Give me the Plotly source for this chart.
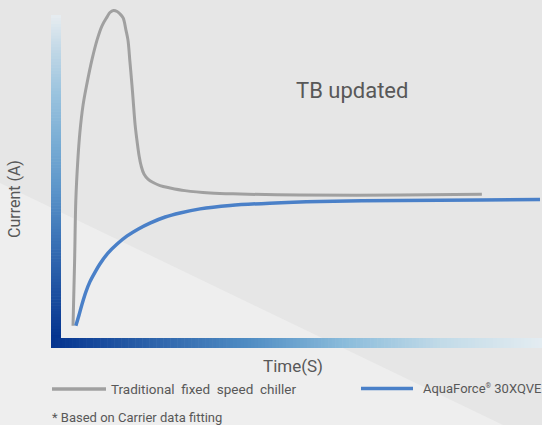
import plotly.graph_objects as go

# ---- data -----------------------------------------------------------------
# start-up current of a traditional fixed speed chiller (inrush peak)
fixed_time = [3.0, 3.4, 3.7, 4.2, 4.7, 5.5, 6.5, 7.7, 9.0, 10.2, 11.5, 12.2,
              13.1, 14.0, 14.7, 15.5, 16.2, 16.7, 17.2, 17.7, 18.0, 18.5,
              19.0, 19.5, 20.0, 20.7, 21.7, 23.0, 24.7, 27.2, 30.9, 37.2,
              44.7, 59.6, 84.6, 105.0]
fixed_current = [3.6, 23.1, 40.8, 52.7, 60.7, 68.9, 75.4, 82.2, 88.2, 92.3,
                 95.0, 96.3, 96.9, 96.6, 95.9, 94.7, 91.1, 88.2, 81.7, 74.9,
                 70.4, 63.0, 58.0, 53.8, 50.9, 48.5, 47.0, 46.0, 45.1, 44.4,
                 43.6, 42.9, 42.6, 42.3, 42.3, 42.5]

# soft start of the AquaForce 30XQVE
vsd_time = [3.7, 4.5, 5.2, 6.2, 7.2, 8.5, 9.7, 11.7, 14.0, 16.5, 19.2, 22.2,
            26.0, 29.7, 34.7, 42.2, 52.1, 64.6, 84.6, 104.5, 119.5]
vsd_current = [3.6, 6.8, 9.8, 13.6, 16.6, 19.5, 21.9, 25.1, 27.8, 30.2, 32.2,
               34.0, 35.8, 37.0, 38.2, 39.2, 39.9, 40.4, 40.7, 40.8, 41.0]

series_names = ["Traditional\u00a0 fixed\u00a0 speed\u00a0 chiller",
                "AquaForce<sup><span style='font-size:7px'>®</span></sup> 30XQVE"]
x_title = "Time(S)"
y_title = "Current (A)"
note_text = "TB updated"
footnote = "* Based on Carrier data fitting"

# ---- styling --------------------------------------------------------------
W, H = 542, 425
FONT = "Roboto"
TEXT = "#585858"
GRAY = "#a0a0a0"
BLUE = "#4a80c8"


def px(x):
    return x / W


def py(y):
    return 1 - y / H


def hex_to_rgb(h):
    h = h.lstrip("#")
    return tuple(int(h[i:i + 2], 16) for i in (0, 2, 4))


def gradient(stops, f):
    for (p0, c0), (p1, c1) in zip(stops, stops[1:]):
        if p0 <= f <= p1:
            t = 0 if p1 == p0 else (f - p0) / (p1 - p0)
            a, b = hex_to_rgb(c0), hex_to_rgb(c1)
            r = [round(a[i] + (b[i] - a[i]) * t) for i in range(3)]
            return "rgb({},{},{})".format(*r)
    return stops[-1][1]


fig = go.Figure()

fig.add_trace(go.Scatter(
    x=fixed_time, y=fixed_current, mode="lines",
    line=dict(color=GRAY, width=3, shape="spline", smoothing=1.0),
    name=series_names[0], hoverinfo="skip"))
fig.add_trace(go.Scatter(
    x=vsd_time, y=vsd_current, mode="lines",
    line=dict(color=BLUE, width=3.5, shape="spline", smoothing=0.8),
    name=series_names[1], hoverinfo="skip"))

shapes = []

# light diagonal band in the background
shapes.append(dict(
    type="path", xref="paper", yref="paper", layer="below",
    path=f"M 0 {py(183)} L {px(503)} {py(425)} L 0 {py(425)} Z",
    fillcolor="#eeeeee", line=dict(width=0)))

# gradient axis lines (dark navy at the origin, fading outward)
h_stops = [(0.0, "#05348f"), (0.2, "#2c62aa"), (0.4, "#4f8cc3"),
           (0.6, "#8bbcdb"), (0.8, "#c2dbe8"), (1.0, "#e3ecf1")]
v_stops = [(0.0, "#05348f"), (0.3, "#3a72b6"), (0.45, "#5a93c9"),
           (0.6, "#78acd4"), (0.75, "#98c2de"), (0.9, "#c3d9e7"),
           (1.0, "#e6ecf0")]

x0, x1 = 51, 542
n = 140
for i in range(n):
    a = x0 + (x1 - x0) * i / n
    b = x0 + (x1 - x0) * (i + 1) / n + 0.6
    shapes.append(dict(type="rect", xref="paper", yref="paper",
                       x0=px(a), x1=px(min(b, x1)), y0=py(348), y1=py(338),
                       fillcolor=gradient(h_stops, i / (n - 1)),
                       line=dict(width=0), layer="below"))

y0, y1 = 338, 15
n = 110
for i in range(n):
    a = y0 - (y0 - y1) * i / n
    b = y0 - (y0 - y1) * (i + 1) / n - 0.6
    shapes.append(dict(type="rect", xref="paper", yref="paper",
                       x0=px(51), x1=px(61), y0=py(a), y1=py(max(b, y1)),
                       fillcolor=gradient(v_stops, i / (n - 1)),
                       line=dict(width=0), layer="below"))

# legend samples
shapes.append(dict(type="line", xref="paper", yref="paper",
                   x0=px(52), x1=px(106), y0=py(389), y1=py(389),
                   line=dict(color=GRAY, width=3.5)))
shapes.append(dict(type="line", xref="paper", yref="paper",
                   x0=px(361), x1=px(413), y0=py(388.5), y1=py(388.5),
                   line=dict(color=BLUE, width=3.5)))

annotations = [
    dict(text=note_text, x=px(352), y=py(90), font=dict(size=22)),
    dict(text=y_title, x=px(14), y=py(199), textangle=-90,
         font=dict(size=16)),
    dict(text=x_title, x=px(293), y=py(366), font=dict(size=17)),
    dict(text=series_names[0], x=px(109), y=py(389), xanchor="left",
         font=dict(size=13.5)),
    dict(text=series_names[1], x=px(421), y=py(388), xanchor="left",
         font=dict(size=13)),
    dict(text=footnote, x=px(50), y=py(417), xanchor="left",
         font=dict(size=13)),
]
for a in annotations:
    a.setdefault("xanchor", "center")
    a.update(xref="paper", yref="paper", yanchor="middle", showarrow=False)
    a["font"].update(family=FONT, color=TEXT)

fig.update_layout(
    width=W, height=H,
    margin=dict(l=0, r=0, t=0, b=0),
    paper_bgcolor="#e6e6e6",
    plot_bgcolor="rgba(0,0,0,0)",
    showlegend=False,
    shapes=shapes,
    annotations=annotations,
    xaxis=dict(domain=[61 / W, 1], range=[0, 120], visible=False,
               fixedrange=True),
    yaxis=dict(domain=[87 / H, 1], range=[0, 100], visible=False,
               fixedrange=True),
)

fig.write_html("out.html")
